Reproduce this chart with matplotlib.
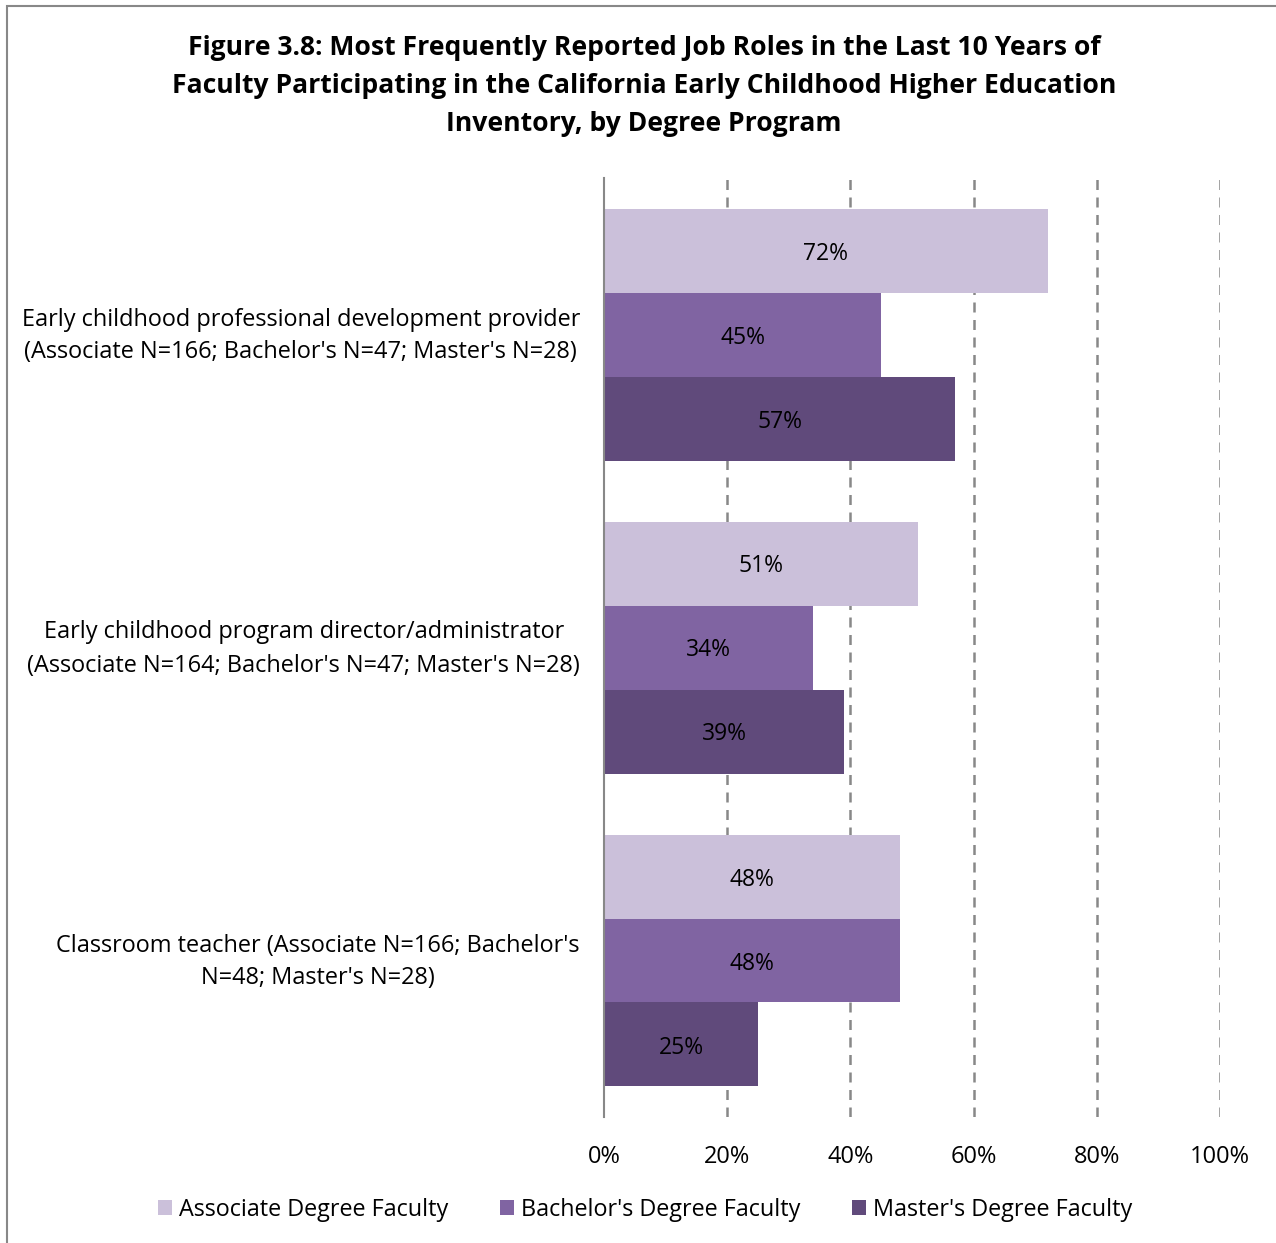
import matplotlib
matplotlib.use("Agg")
import matplotlib.pyplot as plt
import matplotlib.transforms as mtransforms
from matplotlib.patches import Rectangle

categories = [
    "Early childhood professional development provider\n(Associate N=166; Bachelor's N=47; Master's N=28)",
    "Early childhood program director/administrator\n(Associate N=164; Bachelor's N=47; Master's N=28)",
    "Classroom teacher (Associate N=166; Bachelor's\nN=48; Master's N=28)",
]
series_names = ["Associate Degree Faculty", "Bachelor's Degree Faculty", "Master's Degree Faculty"]
associate = [72, 51, 48]
bachelor = [45, 34, 48]
master = [57, 39, 25]
xticks = [0, 20, 40, 60, 80, 100]
xtick_labels = ["0%", "20%", "40%", "60%", "80%", "100%"]
title = ("Figure 3.8: Most Frequently Reported Job Roles in the Last 10 Years of\n"
         "Faculty Participating in the California Early Childhood Higher Education\n"
         "Inventory, by Degree Program")

colors = ["#CBC0DA", "#8064A2", "#604A7B"]
FONT = "Open Sans"
plt.rcParams['font.family'] = [FONT, 'DejaVu Sans']

fig = plt.figure(figsize=(12.76, 12.43), dpi=100)
# outer frame
fig.patches.append(Rectangle((7/1276, -0.01), 1.02, 1 - 6/1243 + 0.01, transform=fig.transFigure,
                             fill=False, edgecolor="#888888", linewidth=1.5))

ax = fig.add_axes([604/1276, 1 - 1117/1243, (1220 - 604)/1276, (1117 - 178)/1243])
bh = 84/313
series = [associate, bachelor, master]
for si, vals in enumerate(series):
    for ci, v in enumerate(vals):
        y = ci + (si - 1) * bh
        ax.barh(y, v, height=bh, color=colors[si], zorder=3,
                label=series_names[si] if ci == 0 else None)
        ax.text(v / 2, y, f"{v}%", ha="center", va="center_baseline", fontsize=16.5,
                color="black", zorder=4)

ax.set_xlim(0, 100)
ax.set_ylim(2.5, -0.5)
ax.set_xticks(xticks)
ax.set_xticklabels(xtick_labels, fontsize=17)
ax.set_yticks(range(len(categories)))
ax.set_yticklabels([""] * len(categories))
trans = ax.get_yaxis_transform() + mtransforms.ScaledTranslation(-24/100, 6/100, fig.dpi_scale_trans)
for ci, lab in enumerate(categories):
    ax.text(0, ci, lab, transform=trans, ha="right", va="center_baseline",
            multialignment="center", linespacing=1.5, fontsize=16.9, clip_on=False)
ax.tick_params(axis="both", length=0)
ax.tick_params(axis="x", pad=20)
for x in xticks[1:]:
    ax.axvline(x, color="#888888", linestyle=(0, (4, 3)), linewidth=1.8, zorder=1)
for s in ["top", "right", "bottom"]:
    ax.spines[s].set_visible(False)
ax.spines["left"].set_color("#888888")
ax.spines["left"].set_linewidth(1.5)
ax.spines["left"].set_zorder(5)

fig.text(644/1276, 1 - 86/1243, title, ha="center", va="center", fontsize=19.1,
         fontweight="bold", linespacing=1.62)

leg = fig.legend(loc="center", bbox_to_anchor=(645/1276, 1 - 1210/1243), ncol=3, frameon=False,
                 fontsize=16.8, handlelength=0.6, handleheight=0.6, handletextpad=0.3,
                 columnspacing=2.2)

fig.savefig("out.png", dpi=100)
